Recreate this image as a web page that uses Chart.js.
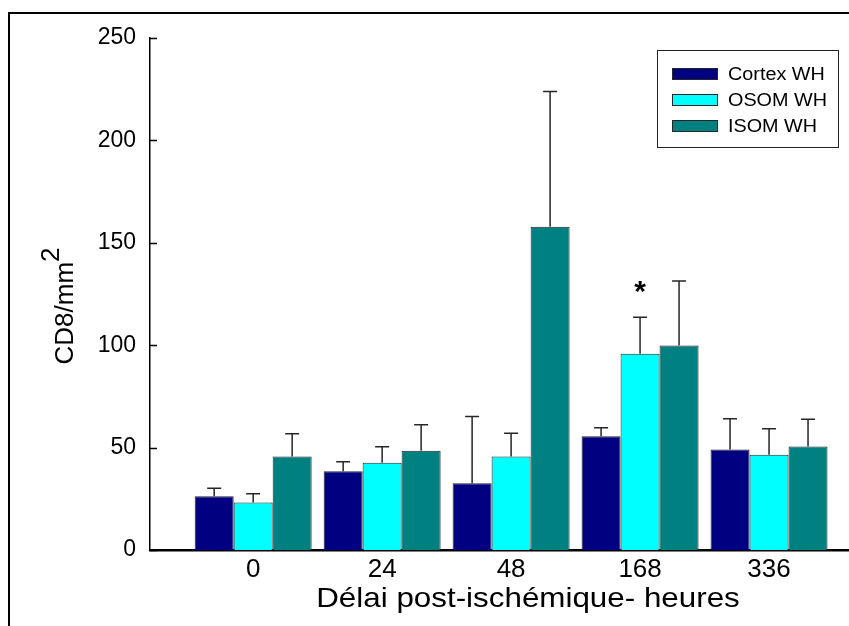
<!DOCTYPE html>
<html>
<head>
<meta charset="utf-8">
<script src="https://cdn.jsdelivr.net/npm/chart.js@4.4.1/dist/chart.umd.min.js"></script>
<style>
  html, body { margin: 0; padding: 0; background: #fff; }
  #wrap { width: 849px; height: 626px; }
</style>
</head>
<body>
<div id="wrap"><canvas id="cd8Chart" width="849" height="626"></canvas></div>
<script>
// categories (hours after ischemia) and series
var hours = ['0', '24', '48', '168', '336'];
var seriesNames = ['Cortex WH', 'OSOM WH', 'ISOM WH'];
var seriesColors = ['#000080', '#00ffff', '#008080'];

// mean values
var cortexMean = [26.2, 38.4, 32.6, 55.6, 49.1];
var osomMean = [23.2, 42.6, 45.7, 95.8, 46.5];
var isomMean = [45.7, 48.5, 157.8, 99.9, 50.5];

// upper error
var cortexErr = [3.9, 4.7, 32.6, 4.1, 15.0];
var osomErr = [4.3, 7.8, 11.3, 17.9, 12.7];
var isomErr = [11.1, 12.7, 66.1, 31.4, 13.3];

var yTicks = [0, 50, 100, 150, 200, 250];

// significance star: series index, category index
var starMarks = [{ series: 1, index: 3, text: '*' }];

var FONT = "'Liberation Sans', Arial, Helvetica, sans-serif";
var means = [cortexMean, osomMean, isomMean];
var errs = [cortexErr, osomErr, isomErr];

function toPoints(arr) {
  return arr.map(function(v, i) { return { x: i, y: v }; });
}

var datasets = seriesNames.map(function(name, s) {
  return {
    label: name,
    data: toPoints(means[s]),
    errors: errs[s],
    backgroundColor: seriesColors[s],
    borderColor: '#262626',
    borderWidth: 1,
    categoryPercentage: 0.907,
    barPercentage: 1.0
  };
});

// text drawn a bit wider than tall, like the scanned figure
function wideText(ctx, text, x, y, sx) {
  ctx.save();
  ctx.translate(x, y);
  ctx.scale(sx, 1);
  ctx.fillText(text, 0, 0);
  ctx.restore();
}

// extra drawing: frame, inward ticks, error bars, star, legend box, axis titles
var decorPlugin = {
  id: 'decor',
  beforeDraw: function(chart) {
    var ctx = chart.ctx;
    ctx.save();
    ctx.strokeStyle = '#000';
    ctx.lineWidth = 2;
    ctx.strokeRect(9, 13, 900, 700);
    ctx.restore();
  },
  afterDatasetsDraw: function(chart) {
    var ctx = chart.ctx;
    var yScale = chart.scales.y;
    ctx.save();
    ctx.strokeStyle = '#262626';
    ctx.lineWidth = 1.5;
    chart.data.datasets.forEach(function(ds, s) {
      var meta = chart.getDatasetMeta(s);
      meta.data.forEach(function(bar, i) {
        var top = yScale.getPixelForValue(ds.data[i].y + ds.errors[i]);
        ctx.beginPath();
        ctx.moveTo(bar.x, bar.y);
        ctx.lineTo(bar.x, top);
        ctx.moveTo(bar.x - 7, top);
        ctx.lineTo(bar.x + 7, top);
        ctx.stroke();
      });
    });

    // stars above whiskers
    ctx.fillStyle = '#000';
    ctx.font = 'bold 30px ' + FONT;
    ctx.textAlign = 'center';
    ctx.textBaseline = 'middle';
    starMarks.forEach(function(m) {
      var ds = chart.data.datasets[m.series];
      var bar = chart.getDatasetMeta(m.series).data[m.index];
      var top = yScale.getPixelForValue(ds.data[m.index].y + ds.errors[m.index]);
      ctx.fillText(m.text, bar.x, top - 24);
    });
    ctx.restore();
  },
  afterDraw: function(chart) {
    var ctx = chart.ctx;
    var area = chart.chartArea;
    var yScale = chart.scales.y;
    ctx.save();

    // y ticks pointing into the plot
    ctx.strokeStyle = '#000';
    ctx.lineWidth = 1.5;
    yTicks.forEach(function(v) {
      var y = Math.round(yScale.getPixelForValue(v)) + 0.5;
      ctx.beginPath();
      ctx.moveTo(area.left, y);
      ctx.lineTo(area.left + 7, y);
      ctx.stroke();
    });

    // legend
    ctx.lineWidth = 1;
    ctx.strokeStyle = '#222';
    ctx.strokeRect(657.5, 50.5, 181, 97);
    ctx.font = '18px ' + FONT;
    ctx.textAlign = 'left';
    ctx.textBaseline = 'middle';
    chart.data.datasets.forEach(function(ds, s) {
      var rowY = 74 + s * 26;
      ctx.fillStyle = ds.backgroundColor;
      ctx.fillRect(672, rowY - 6, 46, 12);
      ctx.strokeStyle = '#262626';
      ctx.strokeRect(672.5, rowY - 5.5, 45, 11);
      ctx.fillStyle = '#000';
      wideText(ctx, ds.label, 728, rowY + 1, 1.1);
    });

    // axis titles
    ctx.fillStyle = '#000';
    ctx.font = '28px ' + FONT;
    ctx.textAlign = 'center';
    ctx.textBaseline = 'middle';
    wideText(ctx, 'Délai post-ischémique- heures', 528, 599, 1.12);

    ctx.translate(63, 306);
    ctx.rotate(-Math.PI / 2);
    ctx.font = '26px ' + FONT;
    ctx.textAlign = 'left';
    ctx.textBaseline = 'alphabetic';
    var base = 'CD8/mm';
    var w = ctx.measureText(base).width;
    var w2 = ctx.measureText('2').width;
    var start = -(w + w2) / 2;
    ctx.fillText(base, start, 10);
    ctx.fillText('2', start + w, -4);
    ctx.restore();
  }
};

new Chart(document.getElementById('cd8Chart').getContext('2d'), {
  type: 'bar',
  data: { datasets: datasets },
  options: {
    responsive: false,
    animation: false,
    layout: { padding: { top: 38, left: 0, right: 0, bottom: 0 } },
    plugins: { legend: { display: false }, tooltip: { enabled: false } },
    scales: {
      x: {
        type: 'linear',
        offset: false,
        min: -0.8,
        max: 4.62,
        afterBuildTicks: function(scale) {
          scale.ticks = hours.map(function(h, i) { return { value: i }; });
        },
        afterFit: function(scale) { scale.height = 76; },
        ticks: {
          autoSkip: false,
          maxRotation: 0,
          color: '#000',
          padding: 4,
          font: { family: FONT, size: 26 },
          callback: function(value) { return hours[value]; }
        },
        grid: { display: false, drawTicks: false, offset: false },
        border: { color: '#000', width: 2.5 }
      },
      y: {
        min: 0,
        max: 250,
        afterBuildTicks: function(scale) {
          scale.ticks = yTicks.map(function(v) { return { value: v }; });
        },
        afterFit: function(scale) { scale.width = 150; },
        ticks: {
          color: '#000',
          padding: 14,
          font: { family: FONT, size: 23 }
        },
        grid: { display: false, drawTicks: false },
        border: { color: '#000', width: 1.5 }
      }
    }
  },
  plugins: [decorPlugin]
});
</script>
</body>
</html>
